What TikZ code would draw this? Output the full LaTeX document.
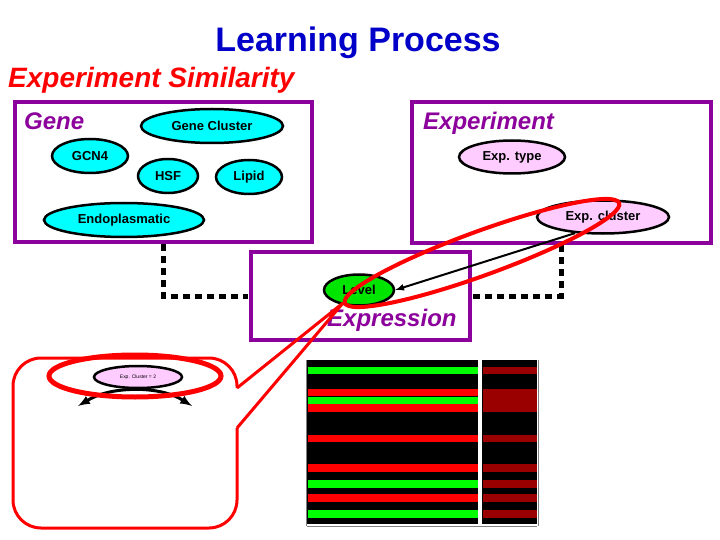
\documentclass[tikz,border=0pt]{standalone}
\usepackage{fontspec}
\setmainfont{Liberation Sans}
\usetikzlibrary{shapes.geometric}
\definecolor{pur}{RGB}{140,0,155}
\definecolor{cy}{RGB}{0,255,255}
\definecolor{pk}{RGB}{255,204,255}
\definecolor{ttl}{RGB}{0,0,200}
\definecolor{dred}{RGB}{155,0,0}
\begin{document}
\begin{tikzpicture}[x=1pt,y=-1pt,
  gene/.style={ellipse,draw,line width=2.5pt,fill=cy,minimum width=#1,minimum height=34pt,inner sep=0pt,font=\bfseries\fontsize{13}{13}\selectfont},
  expn/.style={ellipse,draw,line width=2.5pt,fill=pk,minimum width=#1,minimum height=33pt,inner sep=0pt,font=\bfseries\fontsize{13}{13}\selectfont},
  lab/.style={font=\bfseries\itshape\fontsize{24}{24}\selectfont,text=pur,inner sep=0pt,anchor=west},
  dot/.style={line width=5pt,dash pattern=on 7pt off 5pt},
  redl/.style={draw=red,line width=4pt}]
\useasboundingbox (0,0) rectangle (720,540);
\draw[color=pur,line width=4.5pt] (15,102) rectangle (312,242);
\draw[color=pur,line width=4.5pt] (412,102) rectangle (711,243);
\draw[color=pur,line width=4.5pt] (251,252) rectangle (470,340);
\node[font=\bfseries\fontsize{34}{34}\selectfont,text=ttl] (title) at (358,43) {Learning Process};
\node[font=\bfseries\itshape\fontsize{28}{28}\selectfont,text=red,anchor=west,inner sep=0pt] (sim) at (8,80) {Experiment Similarity};
\node[lab] (gl) at (24,121) {Gene};
\node[lab] (el) at (423,123) {Experiment};
\node[lab] (xl) at (327,320) {Expression};
\node[gene=142pt] (gc) at (212,126) {Gene Cluster};
\node[gene=76pt] (gcn) at (90,156) {GCN4};
\node[gene=60pt] (hsf) at (168,176) {HSF};
\node[gene=66pt] (lip) at (249,177) {Lipid};
\node[gene=160pt] (endo) at (124,220) {Endoplasmatic};
\node[expn=106pt] (et) at (512,157) {Exp. type};
\node[expn=132pt] (ec) at (603,217) {Exp. cluster};
\node[ellipse,draw,line width=2.5pt,fill=green!90!black,minimum width=70pt,minimum height=31pt,inner sep=0pt,font=\bfseries\fontsize{13}{13}\selectfont] (lev) at (359,290) {Level};
\coordinate (d1) at (163,244);
\coordinate (d2) at (163,296);
\coordinate (d3) at (561,245);
\coordinate (d4) at (561,296);
\draw[dot] (d1) -- (d2) -- (248,296);
\draw[dot] (d3) -- (d4) -- (473,296);
\draw[line width=2pt,-latex] (ec.210) -- (lev.east);
\draw[redl,rotate around={20:(482,253)}] (482,253) ellipse (146pt and 22pt);
\fill[black] (307,360) rectangle (478,524);
\fill[black] (482,360) rectangle (537,524);
\draw[gray,line width=1pt] (306,360) -- (306,526) (538,360) -- (538,526) (307,526) -- (537,526);
\foreach \a/\b/\c in {367/374/green,389/396/red,397/404/green,404/412/red,435/442/red,464/472/red,480/488/green,494/502/red,510/518/green}
  \fill[\c] (308,\a) rectangle (478,\b);
\foreach \a/\b in {367/374,389/412,435/442,464/472,480/488,494/502,510/518}
  \fill[dred] (483,\a) rectangle (537,\b);
\coordinate (tip) at (343,303);
\draw[redl,line width=3pt,rounded corners=28pt] (237,388) -- (237,358) -- (13,358) -- (13,528) -- (237,528) -- (237,428);
\draw[redl,line width=3pt] (237,388) -- (tip) -- (237,428);
\node[ellipse,draw,line width=2.5pt,fill=pk,minimum width=88pt,minimum height=22pt,inner sep=0pt,font=\fontsize{5}{5}\selectfont] (ec2) at (138,377) {Exp. Cluster = 2};
\coordinate (la) at (78,406);
\coordinate (ra) at (192,406);
\draw[line width=3pt,-latex] (ec2.south) to[bend right=15] (la);
\draw[line width=3pt,-latex] (ec2.south) to[bend left=15] (ra);
\draw[redl,line width=5pt] (135,376) ellipse (86pt and 21pt);
\end{tikzpicture}
\end{document}
